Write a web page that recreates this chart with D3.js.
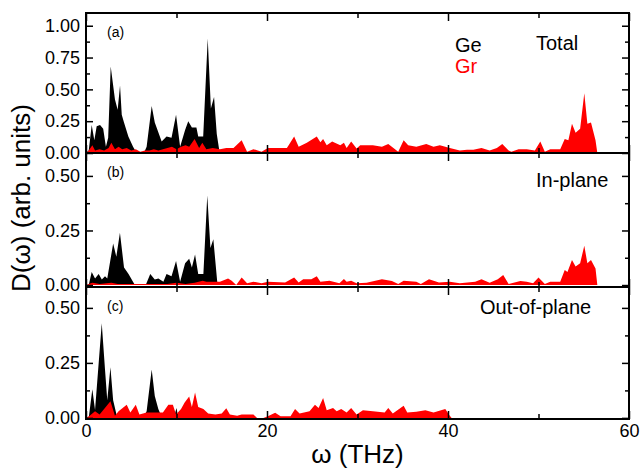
<!DOCTYPE html>
<html lang="en">
<head>
  <meta charset="UTF-8">
  <title>Phonon DOS</title>
  <script src="https://d3js.org/d3.v7.min.js"></script>
</head>
<style>
  body{
    margin:0;
    background:white;
    font-family: "Liberation Sans", Arial, Helvetica, sans-serif;
  }
  .tick text{
    font-family: "Liberation Sans", Arial, Helvetica, sans-serif;
  }
</style>
<body>
<div id="chart"></div>
<script>
// Ge (black) and Gr (red) partial DOS, [frequency THz, value]
// panel (a) total
var geTotal = [[0,0],[0.3,0.02],[0.63,0.22],[0.92,0.10],[1.18,0.21],[1.55,0.22],[1.9,0.19],[2.2,0.05],[2.45,0.12],[2.73,0.68],[3.2,0.42],[3.5,0.34],[3.76,0.53],[3.95,0.30],[4.2,0.24],[4.68,0.13],[5.2,0.05],[5.6,0],[6.4,0],[6.7,0.05],[7.26,0.37],[7.6,0.24],[8.36,0.09],[8.9,0.13],[9.45,0.12],[9.95,0.30],[10.4,0.05],[10.95,0.18],[11.3,0.25],[11.7,0.20],[12.2,0.20],[12.4,0.13],[12.95,0.13],[13.45,0.90],[13.8,0.35],[14.15,0.44],[14.45,0.15],[14.75,0.01],[15.0,0]];
var grTotal = [[0,0],[0.3,0.02],[0.7,0.06],[1.0,0.02],[1.5,0.03],[2.0,0.02],[2.5,0.04],[2.8,0.08],[3.2,0.03],[3.6,0.05],[4.0,0.03],[4.5,0.04],[5.0,0.02],[5.5,0.03],[6.0,0.01],[6.5,0.02],[7.0,0.02],[7.5,0.03],[8.0,0.02],[8.5,0.03],[9.0,0.04],[9.5,0.05],[10.0,0.03],[10.5,0.05],[11.0,0.06],[11.4,0.05],[12.0,0.11],[12.5,0.04],[12.85,0.08],[13.3,0.03],[14.0,0.04],[14.8,0.03],[15.5,0.04],[16.3,0.04],[17.2,0.10],[17.8,0.01],[18.5,0.03],[19.4,0.01],[20.1,0.04],[21.1,0.04],[22.2,0.04],[23.0,0.13],[23.5,0.05],[24.4,0.08],[25.5,0.13],[25.9,0.085],[26.2,0.11],[26.6,0.06],[27.2,0.09],[28.1,0.06],[28.5,0.08],[28.8,0.04],[29.3,0.09],[29.9,0.035],[30.3,0.06],[31.7,0.06],[32.7,0.05],[33.4,0.07],[34.5,0.01],[35.1,0.10],[35.6,0.06],[36.5,0.05],[37.6,0.07],[38.4,0.05],[39.1,0.06],[40.2,0.04],[41.3,0.02],[42.1,0.025],[42.8,0.025],[43.7,0.04],[44.6,0.02],[45.4,0.04],[46.0,0.07],[46.7,0.02],[47.0,0.01],[47.8,0.03],[48.7,0.03],[49.6,0.02],[50.2,0.09],[50.7,0.01],[51.3,0.03],[52.4,0.03],[52.9,0.11],[53.3,0.10],[53.7,0.23],[54.1,0.16],[54.6,0.19],[55.06,0.47],[55.4,0.23],[55.8,0.24],[56.3,0.10],[56.5,0]];
// panel (b) in-plane
var geIn = [[0.3,0],[0.63,0.06],[1.0,0.03],[1.4,0.05],[1.75,0.025],[2.1,0.04],[2.35,0.03],[3.0,0.19],[3.35,0.13],[3.75,0.24],[4.2,0.08],[4.7,0.05],[5.4,0],[6.6,0],[7.1,0.05],[7.6,0.025],[8.0,0.03],[8.55,0.015],[8.9,0.05],[9.45,0.04],[9.95,0.11],[10.4,0.015],[10.95,0.10],[11.4,0.12],[11.7,0.08],[12.05,0.14],[12.4,0.05],[12.97,0.05],[13.4,0.41],[13.75,0.17],[14.07,0.21],[14.5,0.015],[14.8,0]];
var grIn = [[0,0],[0.7,0.01],[1.5,0.005],[2.8,0.01],[3.5,0.005],[5,0.005],[7,0.005],[9,0.005],[10,0.01],[11,0.005],[12,0.01],[12.9,0.02],[13.3,0.015],[14.8,0.015],[15.7,0.03],[16.1,0.02],[16.6,0],[17.2,0.035],[17.8,0.008],[18.5,0.015],[19.4,0.008],[20.1,0.015],[22.0,0.012],[23.0,0.035],[23.5,0.012],[24.0,0.026],[24.9,0.026],[25.5,0.04],[25.9,0.015],[26.9,0.02],[28.0,0.008],[28.5,0.028],[28.8,0.015],[29.3,0.02],[29.9,0.008],[31.0,0.01],[32.7,0.026],[33.8,0.018],[34.5,0.005],[35.1,0.02],[36.5,0.015],[37.0,0.005],[37.9,0.026],[39.0,0.012],[40.2,0.015],[41.3,0.008],[43.0,0.015],[43.7,0.026],[44.6,0.01],[45.5,0.026],[46.1,0.046],[46.7,0.005],[48.0,0.018],[48.7,0.015],[49.4,0.008],[50.0,0.034],[50.7,0.005],[51.3,0.015],[52.4,0.015],[52.9,0.069],[53.2,0.06],[53.7,0.115],[54.1,0.085],[54.6,0.10],[55.06,0.18],[55.4,0.10],[55.8,0.115],[56.3,0.076],[56.5,0]];
// panel (c) out-of-plane
var geOut = [[0.3,0],[0.7,0.13],[1.0,0.036],[1.74,0.43],[2.1,0.22],[2.35,0.08],[2.7,0.23],[3.0,0.08],[3.4,0.01],[3.8,0],[6.3,0],[6.7,0.03],[7.26,0.22],[7.6,0.10],[7.99,0.04],[8.3,0.01],[8.6,0],[9.7,0],[10.0,0.045],[10.2,0]];
var grOut = [[0,0],[0.4,0.01],[1.0,0.03],[1.5,0.015],[2.7,0.076],[3.2,0.01],[3.6,0.03],[4.5,0.06],[4.9,0.024],[5.5,0.06],[5.9,0.015],[6.7,0.025],[7.8,0.025],[8.5,0.024],[9.1,0.06],[9.6,0.06],[9.95,0.015],[10.5,0.04],[10.9,0.07],[11.4,0.097],[11.7,0.05],[12.05,0.115],[12.4,0.05],[12.97,0.04],[13.5,0.02],[14.3,0.015],[15.0,0.02],[15.5,0.044],[15.9,0.015],[16.7,0.01],[17.2,0.015],[18.5,0.015],[18.9,0],[19.6,0],[20.1,0.008],[20.9,0.023],[21.5,0.008],[22.6,0.008],[23.1,0.04],[23.6,0.02],[24.7,0.03],[25.3,0.06],[25.7,0.045],[26.2,0.09],[26.6,0.035],[27.3,0.045],[27.7,0.03],[28.2,0.04],[28.8,0.025],[29.3,0.045],[29.9,0.015],[30.6,0.035],[31.7,0.03],[33.0,0.025],[33.4,0.045],[33.9,0.02],[35.1,0.055],[35.5,0.025],[36.5,0.028],[37.5,0.035],[38.4,0.025],[39.7,0.04],[40.2,0.01],[40.4,0]];

// tick values
var xTicks = [0, 20, 40, 60];
var xMinor = [10, 30, 50];
var yTicksA = [0, 0.25, 0.5, 0.75, 1.0];
var yTicksBC = [0, 0.25, 0.5];

var width = 644, height = 468;
var left = 86, right = 629;

// panel boxes
var panels = [
  {label:"(a)", title:"Total", titleX:536, titleY:50, top:13, bottom:153, domain:[0, 1.1], ticks:yTicksA, minor:[0.125,0.375,0.625,0.875], ge:geTotal, gr:grTotal},
  {label:"(b)", title:"In-plane", titleX:536, titleY:187, top:153, bottom:287, domain:[-0.009, 0.605], ticks:yTicksBC, minor:[0.125,0.375], ge:geIn, gr:grIn},
  {label:"(c)", title:"Out-of-plane", titleX:480, titleY:314, top:287, bottom:419, domain:[-0.005, 0.595], ticks:yTicksBC, minor:[0.125,0.375], ge:geOut, gr:grOut}
];

var svg = d3.select("#chart").append("svg")
  .attr("width", width)
  .attr("height", height);

var xScale = d3.scaleLinear().domain([0, 60]).range([left, right]);

panels.forEach(function(p, i){
  var yScale = d3.scaleLinear().domain(p.domain).range([p.bottom, p.top]);

  // clip for the areas
  svg.append("clipPath").attr("id", "clip" + i)
    .append("rect")
    .attr("x", left).attr("y", p.top)
    .attr("width", right - left).attr("height", p.bottom - p.top);

  var area = d3.area()
    .x(function(d){ return xScale(d[0]); })
    .y0(yScale(0))
    .y1(function(d){ return yScale(d[1]); });

  var g = svg.append("g").attr("clip-path", "url(#clip" + i + ")");
  g.append("path").datum(p.ge).attr("d", area).attr("fill", "black");
  g.append("path").datum(p.gr).attr("d", area).attr("fill", "#ff0000");

  // y axis left, major with labels
  svg.append("g")
    .attr("transform", "translate(" + left + ",0)")
    .call(d3.axisLeft(yScale).tickValues(p.ticks).tickSize(-7).tickPadding(6)
      .tickFormat(d3.format(".2f")))
    .call(function(a){ a.select(".domain").remove(); })
    .selectAll("text").attr("font-size", 18).attr("fill", "black");
  svg.append("g")
    .attr("transform", "translate(" + left + ",0)")
    .call(d3.axisLeft(yScale).tickValues(p.minor).tickSize(-4).tickFormat(""))
    .call(function(a){ a.select(".domain").remove(); });

  // right side ticks
  svg.append("g")
    .attr("transform", "translate(" + right + ",0)")
    .call(d3.axisRight(yScale).tickValues(p.ticks).tickSize(-7).tickFormat(""))
    .call(function(a){ a.select(".domain").remove(); });
  svg.append("g")
    .attr("transform", "translate(" + right + ",0)")
    .call(d3.axisRight(yScale).tickValues(p.minor).tickSize(-4).tickFormat(""))
    .call(function(a){ a.select(".domain").remove(); });

  // top ticks
  svg.append("g")
    .attr("transform", "translate(0," + p.top + ")")
    .call(d3.axisTop(xScale).tickValues(xTicks).tickSize(-8).tickFormat(""))
    .call(function(a){ a.select(".domain").remove(); });
  svg.append("g")
    .attr("transform", "translate(0," + p.top + ")")
    .call(d3.axisTop(xScale).tickValues(xMinor).tickSize(-5).tickFormat(""))
    .call(function(a){ a.select(".domain").remove(); });

  // bottom ticks, labels only on the last panel
  var xb = d3.axisBottom(xScale).tickValues(xTicks).tickSize(-8).tickPadding(5);
  if(i < 2) xb.tickFormat("");
  svg.append("g")
    .attr("transform", "translate(0," + p.bottom + ")")
    .call(xb)
    .call(function(a){ a.select(".domain").remove(); })
    .selectAll("text").attr("font-size", 18).attr("fill", "black");
  svg.append("g")
    .attr("transform", "translate(0," + p.bottom + ")")
    .call(d3.axisBottom(xScale).tickValues(xMinor).tickSize(-5).tickFormat(""))
    .call(function(a){ a.select(".domain").remove(); });

  // frame
  svg.append("rect")
    .attr("x", left).attr("y", p.top)
    .attr("width", right - left).attr("height", p.bottom - p.top)
    .attr("fill", "none").attr("stroke", "black").attr("stroke-width", 2);

  // panel tag and title
  svg.append("text")
    .attr("x", left + 21).attr("y", p.top + 24)
    .attr("font-size", 14)
    .text(p.label);
  svg.append("text")
    .attr("x", p.titleX).attr("y", p.titleY)
    .attr("font-size", 20)
    .text(p.title);
});

svg.selectAll(".tick line").attr("stroke", "black").attr("stroke-width", 1.5);

// legend
svg.append("text").attr("x", 455).attr("y", 52).attr("font-size", 20).attr("fill", "black").text("Ge");
svg.append("text").attr("x", 455).attr("y", 73).attr("font-size", 20).attr("fill", "#ff0000").text("Gr");

// axis titles
svg.append("text")
  .attr("x", (left + right) / 2).attr("y", 463)
  .attr("text-anchor", "middle")
  .attr("font-size", 26)
  .text("\u03C9 (THz)");
svg.append("text")
  .attr("transform", "translate(30," + 198 + ") rotate(-90)")
  .attr("text-anchor", "middle")
  .attr("font-size", 26)
  .text("D(\u03C9) (arb. units)");
</script>
</body>
</html>
